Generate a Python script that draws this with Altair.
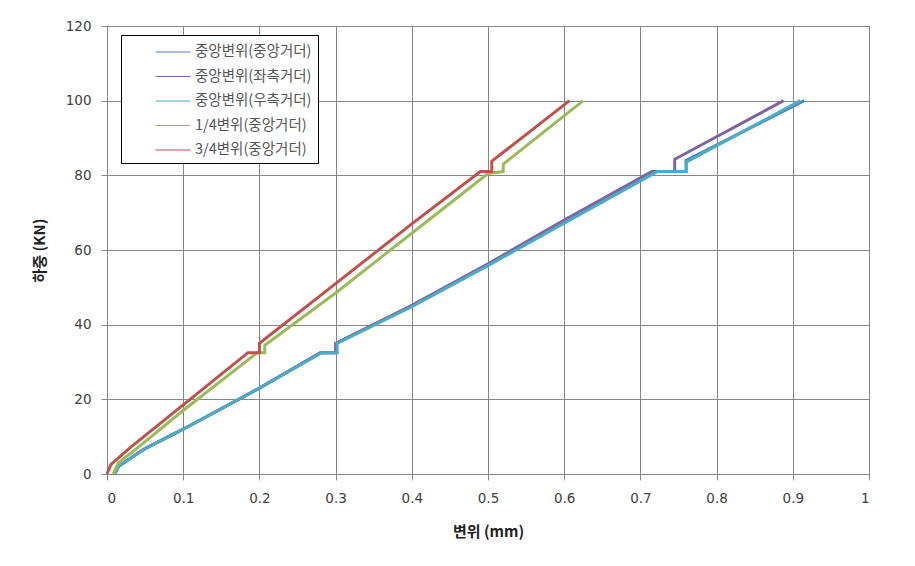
import altair as alt
import pandas as pd

series_names = ["중앙변위(중앙거더)", "중앙변위(좌측거더)", "중앙변위(우측거더)", "1/4변위(중앙거더)", "3/4변위(중앙거더)"]
series_colors = ["#4F81BD", "#8064A2", "#4BACC6", "#9BBB59", "#C0504D"]

center_x = [0.010, 0.015, 0.040, 0.050, 0.100, 0.200, 0.280, 0.300, 0.300, 0.400, 0.500, 0.600, 0.720, 0.760, 0.760, 0.915]
center_y = [0.0, 2.0, 5.5, 6.8, 12.0, 23.0, 32.5, 32.5, 35.0, 45.0, 56.0, 67.5, 81.0, 81.0, 84.0, 100.0]

left_x = [0.010, 0.015, 0.040, 0.050, 0.100, 0.200, 0.280, 0.300, 0.300, 0.400, 0.500, 0.600, 0.715, 0.745, 0.745, 0.888]
left_y = [0.0, 2.0, 5.5, 6.8, 12.0, 23.0, 32.5, 32.5, 35.0, 45.2, 56.3, 68.0, 81.0, 81.0, 84.3, 100.0]

right_x = [0.010, 0.015, 0.040, 0.050, 0.100, 0.200, 0.282, 0.302, 0.302, 0.400, 0.500, 0.600, 0.722, 0.760, 0.760, 0.910]
right_y = [0.0, 2.0, 5.5, 6.8, 12.0, 23.0, 32.5, 32.5, 35.0, 44.8, 55.8, 67.2, 81.0, 81.0, 83.5, 100.0]

quarter_x = [0.008, 0.015, 0.040, 0.100, 0.197, 0.207, 0.207, 0.300, 0.400, 0.500, 0.520, 0.520, 0.625]
quarter_y = [0.0, 3.0, 7.0, 17.0, 32.5, 32.5, 34.5, 48.5, 64.5, 80.5, 81.0, 83.0, 100.0]

three_q_x = [0.000, 0.005, 0.030, 0.100, 0.185, 0.200, 0.200, 0.300, 0.400, 0.490, 0.505, 0.505, 0.607]
three_q_y = [0.0, 2.5, 7.0, 18.5, 32.5, 32.5, 35.0, 51.0, 67.0, 81.0, 81.0, 83.8, 100.0]

all_x = [center_x, left_x, right_x, quarter_x, three_q_x]
all_y = [center_y, left_y, right_y, quarter_y, three_q_y]

rows = []
for name, xs, ys in zip(series_names, all_x, all_y):
    for i, (xv, yv) in enumerate(zip(xs, ys)):
        rows.append({"series": name, "x": xv, "y": yv, "idx": i})
df = pd.DataFrame(rows)

font = "Noto Sans CJK KR"

color = alt.Color(
    "series:N",
    scale=alt.Scale(domain=series_names, range=series_colors),
    legend=alt.Legend(
        title=None,
        orient="none",
        legendX=14,
        legendY=9,
        symbolType="M-1.75,0H1.75",
        symbolSize=400,
        symbolStrokeWidth=1.2,
        symbolOffset=35,
        labelFont=font,
        labelFontSize=14.5,
        labelColor="#555555",
        labelOffset=11,
        rowPadding=6.5,
        padding=6,
        strokeColor="#000000",
        fillColor="#ffffff",
        labelLimit=300,
    ),
)

layers = []
for name in series_names:
    layers.append(
        alt.Chart(df)
        .transform_filter(alt.datum.series == name)
        .mark_line(strokeWidth=3)
        .encode(
            x=alt.X(
                "x:Q",
                scale=alt.Scale(domain=[0, 1], nice=False),
                axis=alt.Axis(
                    title="변위 (mm)",
                    values=[0, 0.1, 0.2, 0.3, 0.4, 0.5, 0.6, 0.7, 0.8, 0.9, 1],
                    format="~g",
                    labelPadding=11,
                    titlePadding=20,
                ),
            ),
            y=alt.Y(
                "y:Q",
                scale=alt.Scale(domain=[0, 120], nice=False),
                axis=alt.Axis(
                    title="하중 (KN)",
                    values=[0, 20, 40, 60, 80, 100, 120],
                    labelPadding=10,
                    titlePadding=18,
                ),
            ),
            color=color,
            order="idx:Q",
        )
    )

chart = (
    alt.layer(*layers)
    .properties(
        width=762,
        height=448,
        autosize=alt.AutoSizeParams(type="none"),
        padding={"left": 107, "top": 26, "right": 46, "bottom": 92},
    )
    .configure_view(stroke="#868686", strokeWidth=1)
    .configure_axis(
        gridColor="#868686",
        gridOpacity=1,
        gridWidth=1,
        domainColor="#868686",
        tickColor="#868686",
        tickSize=6,
        labelFont="DejaVu Sans",
        labelFontSize=13.5,
        labelColor="#404040",
        titleFont=font,
        titleFontSize=15,
        titleFontWeight="bold",
        titleColor="#222222",
    )
    .configure_axisX(labelAngle=0)
)

chart.save("out.html", embed_options={"renderer": "svg", "actions": False})
